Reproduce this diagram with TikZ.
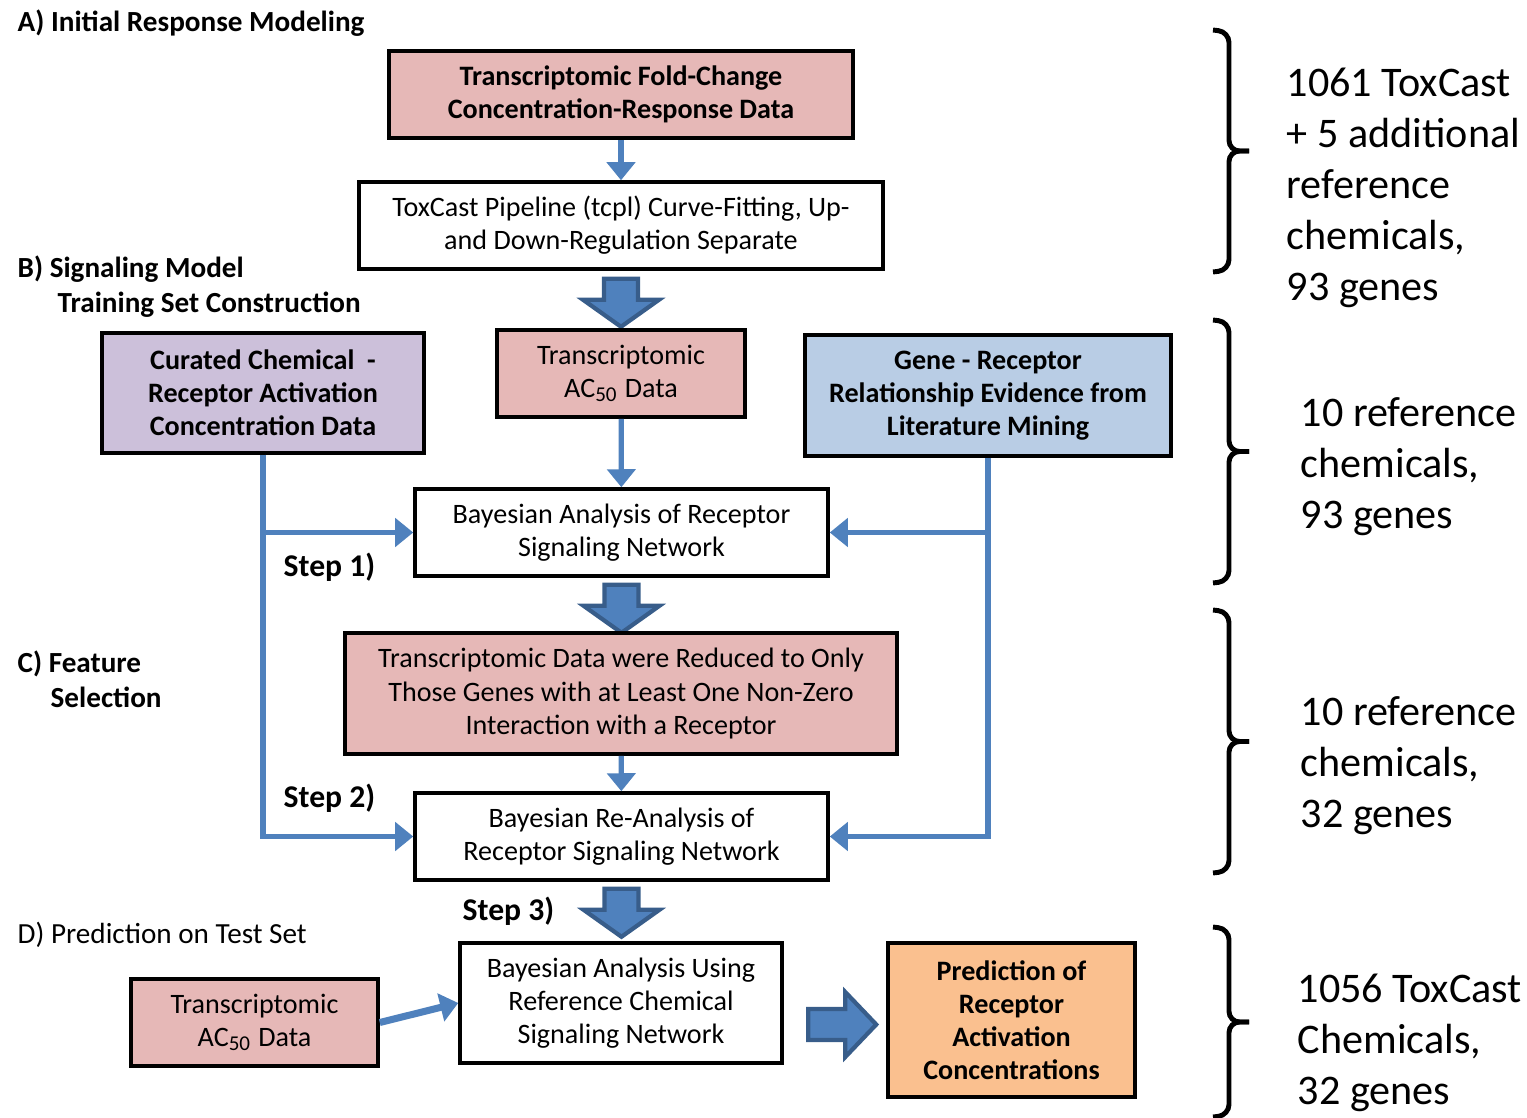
\documentclass[tikz,border=0pt]{standalone}
\usepackage{fontspec}
\setmainfont{Carlito}
\usetikzlibrary{positioning,arrows.meta,calc}

\definecolor{pinkfill}{HTML}{E6B8B7}
\definecolor{lilacfill}{HTML}{CCC0DA}
\definecolor{bluefill}{HTML}{B9CDE5}
\definecolor{orangefill}{HTML}{FAC08F}
\definecolor{flowblue}{HTML}{4F81BD}
\definecolor{flowedge}{HTML}{385D8A}

% right brace between two named coordinates
\newcommand{\sizebrace}[2]{%
  \draw[setbrace] (#1) -- ++(0.16,-0.02) |- ($(#1)!0.5!(#2)+(0.36,0)$);
  \draw[setbrace] (#2) -- ++(0.16,0.02) |- ($(#1)!0.5!(#2)+(0.36,0)$);}

\begin{document}
\begin{tikzpicture}[
  box/.style={draw, line width=1pt, align=center, inner sep=2pt, font=\fontsize{8}{9.4}\selectfont},
  boldbox/.style={box, font=\fontsize{8}{9.4}\selectfont\bfseries},
  conn/.style={flowblue, line width=1.5pt, -{Triangle[length=0.18cm, width=0.28cm]}},
  section/.style={anchor=west, align=left, inner sep=0pt, font=\fontsize{8.3}{10}\selectfont\bfseries},
  steplabel/.style={anchor=west, inner sep=0pt, font=\fontsize{9}{10}\selectfont\bfseries},
  tally/.style={anchor=west, align=left, inner sep=0pt, font=\fontsize{12}{14.5}\selectfont},
  setbrace/.style={line width=1.4pt, rounded corners=3pt},
  blockdown/.pic={\draw[fill=flowblue, draw=flowedge, line width=1.2pt]
    (-0.17,0) -- (0.17,0) -- (0.17,-0.21) -- (0.38,-0.21) -- (0,-0.48)
    -- (-0.38,-0.21) -- (-0.17,-0.21) -- cycle;},
  blockright/.pic={\draw[fill=flowblue, draw=flowedge, line width=1.2pt]
    (0,0.155) -- (0.37,0.155) -- (0.37,0.325) -- (0.68,0) -- (0.37,-0.325)
    -- (0.37,-0.155) -- (0,-0.155) -- cycle;}
]
\useasboundingbox (0,0) rectangle (15.27,-11.17);

% A) initial response modeling
\node[section] (labA) at (0.17,-0.23) {A) Initial Response Modeling};
\node[boldbox, fill=pinkfill, minimum width=4.64cm, minimum height=0.87cm] (foldchange) at (6.21,-0.945)
  {Transcriptomic Fold-Change\\Concentration-Response Data};
\node[box, minimum width=5.24cm, minimum height=0.87cm] (tcpl) at (6.21,-2.255)
  {ToxCast Pipeline (tcpl) Curve-Fitting, Up-\\and Down-Regulation Separate};
\draw[conn] (foldchange) -- (tcpl);
\pic at ($(tcpl.south)+(0,-0.08)$) {blockdown};

% B) training set construction
\node[section] (labB) at (0.17,-2.865) {B) Signaling Model\\\hspace*{0.4cm}Training Set Construction};
\node[boldbox, fill=lilacfill, minimum width=3.22cm, minimum height=1.2cm] (curated) at (2.63,-3.93)
  {Curated Chemical\ \ -\\Receptor Activation\\Concentration Data};
\node[box, fill=pinkfill, minimum width=2.48cm, minimum height=0.87cm] (acfifty) at (6.21,-3.735)
  {Transcriptomic\\AC\textsubscript{50} Data};
\node[boldbox, fill=bluefill, minimum width=3.66cm, minimum height=1.21cm] (literature) at (9.88,-3.955)
  {Gene - Receptor\\Relationship Evidence from\\Literature Mining};
\node[box, minimum width=4.13cm, minimum height=0.87cm] (bayesone) at (6.215,-5.325)
  {Bayesian Analysis of Receptor\\Signaling Network};
\draw[conn] (acfifty) -- (bayesone);
\draw[conn] (curated.south) |- (bayesone.west);
\draw[conn] (literature.south) |- (bayesone.east);
\node[steplabel] (stepone) at (2.83,-5.67) {Step 1)};
\pic at ($(bayesone.south)+(0,-0.07)$) {blockdown};

% C) feature selection
\node[section] (labC) at (0.17,-6.795) {C) Feature\\\hspace*{0.33cm}Selection};
\node[box, fill=pinkfill, minimum width=5.52cm, minimum height=1.21cm] (reduced) at (6.21,-6.935)
  {Transcriptomic Data were Reduced to Only\\Those Genes with at Least One Non-Zero\\Interaction with a Receptor};
\node[box, minimum width=4.13cm, minimum height=0.87cm] (bayestwo) at (6.215,-8.365)
  {Bayesian Re-Analysis of\\Receptor Signaling Network};
\draw[conn] (reduced) -- (bayestwo);
\draw[conn] (curated.south) |- (bayestwo.west);
\draw[conn] (literature.south) |- (bayestwo.east);
\node[steplabel] (steptwo) at (2.83,-7.98) {Step 2)};
\node[steplabel] (stepthree) at (4.62,-9.11) {Step 3)};
\pic at ($(bayestwo.south)+(0,-0.07)$) {blockdown};

% D) prediction on test set
\node[section, font=\fontsize{8.3}{10}\selectfont] (labD) at (0.17,-9.35) {D) Prediction on Test Set};
\node[box, fill=pinkfill, minimum width=2.47cm, minimum height=0.87cm] (testac) at (2.545,-10.225)
  {Transcriptomic\\AC\textsubscript{50} Data};
\node[box, minimum width=3.22cm, minimum height=1.2cm] (bayesthree) at (6.21,-10.03)
  {Bayesian Analysis Using\\Reference Chemical\\Signaling Network};
\node[boldbox, fill=orangefill, minimum width=2.47cm, minimum height=1.54cm] (prediction) at (10.115,-10.2)
  {Prediction of\\Receptor\\Activation\\Concentrations};
\draw[conn, line width=2pt] (testac.east) -- (bayesthree.west);
\pic at ($(prediction.west)+(-0.78,-0.045)$) {blockright};

% data set sizes
\coordinate (braceAtop) at (12.13,-0.30);
\coordinate (braceAbot) at (12.13,-2.72);
\coordinate (braceBtop) at (12.13,-3.20);
\coordinate (braceBbot) at (12.13,-5.83);
\coordinate (braceCtop) at (12.13,-6.10);
\coordinate (braceCbot) at (12.13,-8.73);
\coordinate (braceDtop) at (12.13,-9.27);
\coordinate (braceDbot) at (12.13,-11.17);
\sizebrace{braceAtop}{braceAbot}
\sizebrace{braceBtop}{braceBbot}
\sizebrace{braceCtop}{braceCbot}
\sizebrace{braceDtop}{braceDbot}
\node[tally] (sizeA) at (12.86,-1.88) {1061 ToxCast\\+ 5 additional\\reference\\chemicals,\\93 genes};
\node[tally] (sizeB) at (13.00,-4.67) {10 reference\\chemicals,\\93 genes};
\node[tally] (sizeC) at (13.00,-7.66) {10 reference\\chemicals,\\32 genes};
\node[tally] (sizeD) at (12.97,-10.43) {1056 ToxCast\\Chemicals,\\32 genes};
\end{tikzpicture}
\end{document}
